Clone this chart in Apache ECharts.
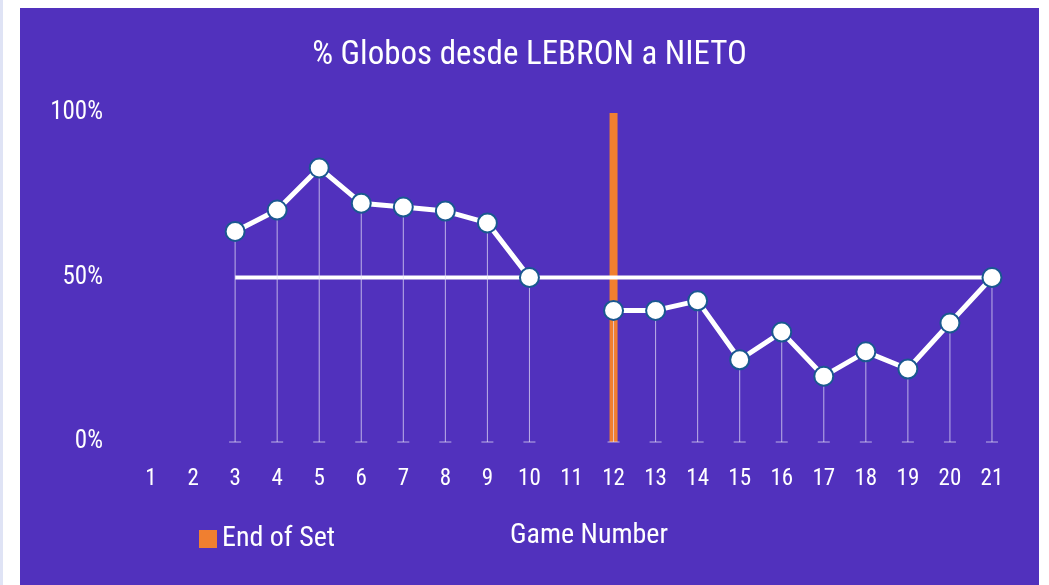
<!DOCTYPE html>
<html>
<head>
<meta charset="utf-8">
<script src="https://cdn.jsdelivr.net/npm/echarts@6/dist/echarts.min.js"></script>
<style>
  html, body { margin: 0; padding: 0; width: 1049px; height: 585px; background: #fff; overflow: hidden; }
  .strip { position: absolute; left: 0; top: 0; width: 3px; height: 585px; background: #dfe3f5; }
  #chart { position: absolute; left: 20px; top: 8px; width: 1019px; height: 577px; background: #5131bd; }
</style>
</head>
<body>
<div class="strip"></div>
<div id="chart"></div>
<script>
// datos
var games = ['1', '2', '3', '4', '5', '6', '7', '8', '9', '10', '11', '12', '13', '14', '15', '16', '17', '18', '19', '20', '21']
var globos = [null, null, 0.64, 0.705, 0.833, 0.726, 0.714, 0.702, 0.666, 0.5, null, 0.40, 0.40, 0.429, 0.25, 0.334, 0.20, 0.274, 0.222, 0.362, 0.5]
var media = [null, null, 0.5, 0.5, 0.5, 0.5, 0.5, 0.5, 0.5, 0.5, 0.5, 0.5, 0.5, 0.5, 0.5, 0.5, 0.5, 0.5, 0.5, 0.5, 0.5]
var endOfSet = [null, null, null, null, null, null, null, null, null, null, null, 1, null, null, null, null, null, null, null, null, null]
var yTicks = [0, 0.5, 1]

var font = '"Roboto Condensed", "Liberation Sans Narrow", "DejaVu Sans Condensed", "Roboto", sans-serif'

var chart = echarts.init(document.getElementById('chart'))
chart.setOption({
  backgroundColor: 'transparent',
  animation: false,
  textStyle: { fontFamily: font, color: '#fff' },
  title: {
    text: '% Globos desde LEBRON a NIETO',
    left: 'center',
    top: 26,
    textStyle: { color: '#fff', fontSize: 33, fontWeight: 'normal', fontFamily: font }
  },
  legend: {
    data: ['End of Set'],
    left: 174,
    top: 512,
    icon: 'rect',
    itemWidth: 18,
    itemHeight: 18,
    itemGap: 6,
    textStyle: { color: '#fff', fontSize: 28, fontFamily: font }
  },
  graphic: [{
    type: 'text',
    left: 490,
    top: 514,
    style: { text: 'Game Number', fill: '#fff', fontSize: 28, fontFamily: font }
  }],
  grid: { left: 110, top: 105, width: 883, height: 329 },
  xAxis: {
    type: 'category',
    data: games,
    axisLine: { show: false },
    axisTick: { show: false },
    axisLabel: { color: '#fff', fontSize: 23, margin: 26, fontFamily: font }
  },
  yAxis: {
    type: 'value',
    min: 0,
    max: 1,
    interval: 0.5,
    splitLine: { show: false },
    axisLine: { show: false },
    axisLabel: {
      color: '#fff', fontSize: 25, margin: 27, fontFamily: font,
      formatter: function (v) { return yTicks.indexOf(v) >= 0 ? Math.round(v * 100) + '%' : '' }
    }
  },
  series: [
    {
      name: 'End of Set',
      type: 'bar',
      data: endOfSet,
      barWidth: 8,
      itemStyle: { color: '#f07f30' },
      z: 1
    },
    {
      name: 'Media',
      type: 'line',
      data: media,
      showSymbol: false,
      lineStyle: { color: '#fff', width: 4 },
      z: 2
    },
    {
      // lineas de caida con tope
      name: 'Drop',
      type: 'custom',
      data: globos.map(function (v, i) { return v == null ? [i, null] : [i, v] }),
      encode: { x: 0, y: 1 },
      z: 3,
      renderItem: function (params, api) {
        var v = api.value(1)
        if (v == null || isNaN(v)) return
        var top = api.coord([api.value(0), v])
        var bot = api.coord([api.value(0), 0])
        var style = { stroke: 'rgba(225,220,245,0.75)', lineWidth: 1 }
        return {
          type: 'group',
          children: [
            { type: 'line', shape: { x1: top[0], y1: top[1], x2: bot[0], y2: bot[1] }, style: style },
            { type: 'line', shape: { x1: bot[0] - 6, y1: bot[1], x2: bot[0] + 6, y2: bot[1] }, style: style }
          ]
        }
      }
    },
    {
      name: 'Globos',
      type: 'line',
      data: globos,
      connectNulls: false,
      symbol: 'circle',
      symbolSize: 19,
      lineStyle: { color: '#fff', width: 5 },
      itemStyle: { color: '#fff', borderColor: '#1a5890', borderWidth: 2 },
      z: 4
    }
  ]
})
</script>
</body>
</html>
